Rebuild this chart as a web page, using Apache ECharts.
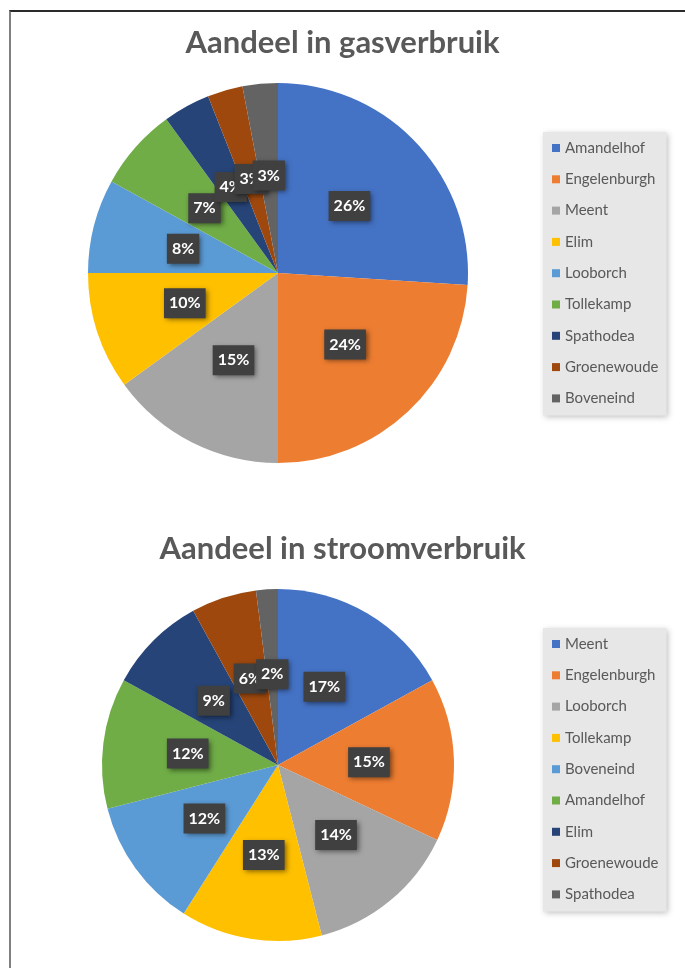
<!DOCTYPE html>
<html>
<head>
<meta charset="utf-8">
<script src="https://cdn.jsdelivr.net/npm/echarts@6/dist/echarts.min.js"></script>
<style>
    html, body { margin: 0; padding: 0; background: #fff; }
    body { width: 685px; height: 968px; position: relative; overflow: hidden; }
    #frame { position: absolute; left: 9px; top: 10px; right: 0; bottom: 0;
             border-top: 2px solid #2a2a2a; border-left: 2px solid #808080; }
    #main  { position: absolute; left: 0; top: 0;   width: 685px; height: 484px; }
    #main1 { position: absolute; left: 0; top: 484px; width: 685px; height: 484px; }
</style>
</head>
<body>
<div id="frame"></div>
<div id="main"></div>
<div id="main1"></div>
<script>
// gegevens uit de figuur (procenten)
var gasNames   = ['Amandelhof', 'Engelenburgh', 'Meent', 'Elim', 'Looborch', 'Tollekamp', 'Spathodea', 'Groenewoude', 'Boveneind'];
var gasValues  = [26, 24, 15, 10, 8, 7, 4, 3, 3];

var stroomNames  = ['Meent', 'Engelenburgh', 'Looborch', 'Tollekamp', 'Boveneind', 'Amandelhof', 'Elim', 'Groenewoude', 'Spathodea'];
var stroomValues = [17, 15, 14, 13, 12, 12, 9, 6, 2];

// Office kleuren, per positie in de reeks
var palette = ['#4472C4', '#ED7D31', '#A5A5A5', '#FFC000', '#5B9BD5', '#70AD47', '#264478', '#9E480E', '#636363'];

function makeData(names, values) {
    var d = [];
    for (var i = 0; i < names.length; i++) {
        d.push({ name: names[i], value: values[i] });
    }
    return d;
}

function makeOption(title, names, values, center, radius, titleTop, legendTop) {
    return {
        color: palette,
        animation: false,
        title: {
            text: title,
            left: 'center',
            top: titleTop,
            textStyle: {
                fontFamily: 'Lato',
                fontWeight: 'bold',
                fontSize: 31,
                color: '#595959'
            }
        },
        legend: {
            orient: 'vertical',
            left: 543,
            top: legendTop,
            data: names,
            icon: 'rect',
            itemWidth: 8,
            itemHeight: 8,
            itemGap: 15.3,
            padding: [8, 8, 9, 9],
            backgroundColor: '#e7e7e7',
            shadowBlur: 6,
            shadowColor: 'rgba(0,0,0,0.25)',
            shadowOffsetX: 2,
            shadowOffsetY: 2,
            textStyle: {
                fontFamily: 'Lato',
                fontSize: 15,
                lineHeight: 16,
                color: '#595959'
            }
        },
        series: [
            {
                type: 'pie',
                center: center,
                radius: radius,
                startAngle: 90,
                clockwise: true,
                avoidLabelOverlap: false,
                minShowLabelAngle: 0,
                labelLayout: { hideOverlap: false },
                data: makeData(names, values),
                itemStyle: { borderWidth: 0 },
                emphasis: { disabled: true },
                label: {
                    show: true,
                    position: 'inside',
                    formatter: '{d}%',
                    fontFamily: 'Lato',
                    fontWeight: 'bold',
                    fontSize: 16,
                    color: '#ffffff',
                    backgroundColor: '#404040',
                    padding: [7, 5],
                    shadowBlur: 5,
                    shadowColor: 'rgba(0,0,0,0.5)',
                    shadowOffsetX: 2,
                    shadowOffsetY: 2
                },
                labelLine: { show: false }
            }
        ]
    };
}

window.onload = function () {
    var myChart  = echarts.init(document.getElementById('main'));
    var myChart1 = echarts.init(document.getElementById('main1'));

    myChart.setOption(makeOption('Aandeel in gasverbruik', gasNames, gasValues, [278, 273], 190, 22, 132));
    myChart1.setOption(makeOption('Aandeel in stroomverbruik', stroomNames, stroomValues, [278, 281], 176, 44, 144));
};
</script>
</body>
</html>
